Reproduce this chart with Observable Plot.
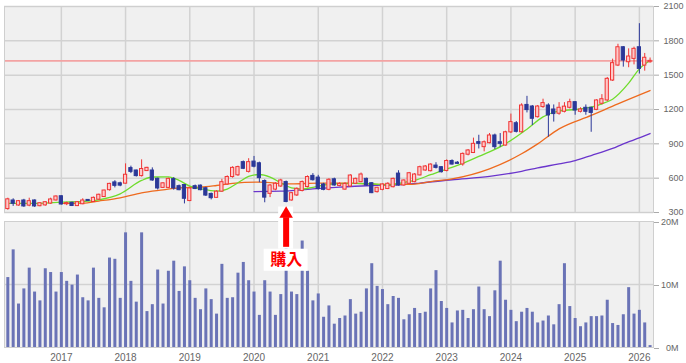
<!DOCTYPE html>
<html><head><meta charset="utf-8">
<script src="https://cdn.jsdelivr.net/npm/d3@7"></script>
<script src="https://cdn.jsdelivr.net/npm/@observablehq/plot@0.6"></script>
<style>
body{margin:0;background:#fff;}
#chart{position:relative;width:686px;height:363px;}
#chart svg{display:block;overflow:visible}
</style></head><body><div id="chart"></div>
<script>
// ---- data (monthly candles, first month = 2016-03) ----
const startMonth = "2016-03";
const priceOpen  = [330,405,361,405,360,405,355,362,378,405, 442,372,385,356,372,410,392,412,435,495,
               563,555,552,688,667,618,662,667,595,515, 515,592,530,540,400,530,535,512,462,428,
               482,545,610,625,740,655,745,730,575,463, 500,527,566,405,449,488,523,620,605,545,
               498,590,532,500,527,551,565,594,556,478, 498,505,521,640,536,551,565,624,667,661,
               710,696,663,750,735,720,805,820,915,871, 906,973,914,885,1000,1080,1001,1240,1226,1133,
               1221,1235,1200,1163,1180,1215,1264,1180,1215,1215, 1197,1250,1279,1453,1584,1744,1613,1642,1744,1584,
               1613];
const priceHigh  = [425,420,405,415,425,410,385,395,425,445, 445,390,390,395,420,412,435,460,495,555,
               578,565,725,705,670,760,695,690,600,560, 600,605,540,545,520,540,540,520,470,490,
               590,620,700,705,750,770,790,740,585,545, 560,590,575,475,515,575,620,640,625,555,
               595,600,560,560,630,600,645,600,560,520, 550,560,600,665,585,650,640,705,710,725,
               735,700,760,760,745,820,850,950,975,925, 990,985,990,1010,1160,1095,1250,1315,1235,1235,
               1290,1250,1240,1260,1260,1290,1270,1215,1240,1220, 1285,1330,1480,1640,1770,1750,1730,1745,1950,1690,
               1650];
const priceLow   = [320,353,355,345,350,345,350,355,372,400, 365,360,352,352,368,398,388,408,432,487,
               515,525,548,640,610,610,658,572,497,510, 510,495,490,375,395,500,490,440,410,425,
               478,540,600,615,675,645,690,560,385,430, 490,520,385,400,440,480,515,575,495,490,
               490,530,525,495,520,545,560,530,465,470, 490,500,515,530,530,545,560,620,660,655,
               680,645,655,715,720,705,795,815,855,830, 900,850,870,880,990,995,995,1170,1060,1125,
               1210,958,1090,1150,1170,1205,1150,1170,1150,1001, 1190,1240,1270,1445,1575,1570,1565,1590,1510,1535,
               1605];
const priceClose = [415,376,399,353,399,353,381,390,414,440, 370,382,357,390,405,400,428,455,492,550,
               533,535,630,655,618,680,690,580,510,555, 594,510,495,420,510,505,495,448,425,482,
               565,610,690,697,682,740,700,600,430,536, 551,580,392,469,507,566,610,582,505,498,
               586,536,550,550,623,594,632,536,469,516, 545,551,594,536,580,643,632,696,702,719,
               690,652,750,719,725,812,842,900,900,914, 973,871,900,1001,1090,1005,1235,1195,1119,1226,
               1256,1148,1160,1215,1225,1264,1191,1200,1180,1170, 1279,1290,1468,1605,1744,1628,1663,1730,1555,1652,
               1625];
const volumeM = [11.1,15.5,6.9,9.3,12.6,8.8,7.4,12.5,11.9,8.8, 11.9,10.5,9.9,11.5,7.9,7.4,12.6,7.8,6.3,14.2,
                 14.0,7.8,18.2,10.5,7.2,18.2,5.7,6.8,12.3,6.9, 12.1,13.7,8.9,12.8,10.6,7.8,6.0,9.3,7.6,5.3,
                 13.2,7.8,7.9,11.8,13.5,10.6,8.8,5.1,10.6,8.8, 5.1,8.4,16.5,8.8,8.4,16.9,12.1,7.4,8.5,4.8,
                 6.6,3.7,4.6,5.0,7.6,5.3,5.6,9.3,13.3,9.7, 9.2,6.8,8.1,7.8,4.4,5.2,6.2,5.4,5.6,9.3,
                 12.2,7.3,6.2,3.9,5.8,5.9,4.6,6.0,9.6,6.0, 4.9,9.0,13.7,7.5,5.9,4.1,5.6,6.2,5.6,3.9,
                 4.2,5.0,3.6,6.8,13.3,6.5,4.6,3.3,3.9,4.9, 4.9,5.0,7.5,3.8,3.5,5.2,9.5,5.3,5.9,3.9,
                 0.3];
// moving averages
const maShortMonths = ["2016-03","2016-09","2017-01","2017-05","2017-08","2017-12","2018-04","2018-06","2018-09","2018-11","2019-01","2019-03","2019-06","2019-08","2019-10","2019-12","2020-02","2020-04","2020-06","2020-08","2020-10","2020-12","2021-03","2021-07","2021-11","2022-02","2022-04","2022-07","2022-10","2023-01","2023-03","2023-07","2023-09","2023-12","2024-04","2024-07","2024-10","2025-01","2025-04","2025-06","2025-08","2025-11","2026-01","2026-03"];
const maShortValues = [380,380,390,396,411,463,580,610,612,580,530,507,486,505,560,615,632,610,560,515,505,520,545,555,551,540,555,580,630,680,711,790,830,900,1028,1135,1188,1200,1220,1250,1290,1430,1555,1628];
const maMidMonths = ["2017-01","2017-05","2017-08","2017-12","2018-04","2018-08","2018-11","2019-03","2019-06","2019-09","2020-02","2020-08","2021-01","2021-07","2022-01","2022-06","2022-10","2023-02","2023-09","2024-03","2024-06","2024-10","2025-04","2025-09","2026-03"];
const maMidValues = [380,382,400,428,472,498,516,521,536,555,565,550,557,557,545,545,570,594,682,813,900,1031,1148,1250,1366];
const maLongMonths = ["2020-01","2020-06","2020-12","2021-05","2021-11","2022-04","2022-08","2023-02","2023-09","2024-03","2024-06","2024-10","2025-01","2025-04","2025-08","2025-10","2025-12","2026-03"];
const maLongValues = [483,486,507,521,536,542,557,586,615,660,690,725,754,798,860,900,935,990];

const yearTicks = [2017,2018,2019,2020,2021,2022,2023,2024,2025,2026];
const priceTicks = [300,600,900,1200,1500,1800,2100];
const volumeTicks = [0,10,20];
const refPrice = 1625;
const purchase = {month: "2020-07", label: "購入"};

// ---- helpers ----
const [sy, sm] = startMonth.split("-").map(Number);
const idx = s => { const [y, m] = s.split("-").map(Number); return (y - sy) * 12 + (m - sm); };
const rows = priceOpen.map((o, i) => ({i, o, h: priceHigh[i], l: priceLow[i], c: priceClose[i], v: volumeM[i], up: priceClose[i] >= o}));
const yearIdx = yearTicks.map(y => idx(y + "-01"));
const ma = (ms, vs, name) => ms.map((m, k) => ({i: idx(m), v: vs[k], name}));
const maData = [...ma(maShortMonths, maShortValues, "s"), ...ma(maMidMonths, maMidValues, "m"), ...ma(maLongMonths, maLongValues, "l")];
const xDomain = [-0.62, 120.64];
const UP = "#f03434", UPFILL = "#ffc9c9", DOWN = "#2b3898";
const font = {fontFamily: "'Liberation Sans', Arial, sans-serif", fontSize: "10px", background: "transparent", overflow: "visible"};
const gridStyle = {stroke: "#d2d2d2", strokeOpacity: 1, strokeWidth: 1.5};

const pricePlot = Plot.plot({
  width: 686, height: 218, marginLeft: 4, marginRight: 33, marginTop: 6, marginBottom: 6,
  style: font,
  x: {domain: xDomain, axis: null, label: null},
  y: {domain: [300, 2100], axis: null, label: null},
  marks: [
    Plot.frame({fill: "#f0f0f0", stroke: null}),
    Plot.gridY(priceTicks, gridStyle),
    Plot.gridX(yearIdx, gridStyle),
    Plot.ruleY([refPrice], {stroke: "#f3a3a3", strokeWidth: 1.6}),
    Plot.line(maData.filter(d => d.name === "l"), {x: "i", y: "v", stroke: "#6a35cc", strokeWidth: 1.3, curve: "monotone-x"}),
    Plot.line(maData.filter(d => d.name === "m"), {x: "i", y: "v", stroke: "#ee6a1e", strokeWidth: 1.3, curve: "monotone-x"}),
    Plot.line(maData.filter(d => d.name === "s"), {x: "i", y: "v", stroke: "#6fdc2c", strokeWidth: 1.3, curve: "monotone-x"}),
    Plot.ruleX(rows, {x: "i", y1: "l", y2: "h", stroke: d => d.up ? UP : DOWN, strokeWidth: 1}),
    Plot.rect(rows, {x1: d => d.i - 0.3, x2: d => d.i + 0.3, y1: "o", y2: "c",
      fill: d => d.up ? UPFILL : DOWN, stroke: d => d.up ? UP : DOWN, strokeWidth: 1}),
    Plot.frame({stroke: "#cfcfcf"}),
    Plot.axisY(priceTicks, {anchor: "right", label: null, tickSize: 5, tickPadding: 25, textAnchor: "end",
      stroke: "#aaa", fill: "#666", fontSize: 9, tickFormat: d => String(d)})
  ]
});

const pI = idx(purchase.month);
const volumePlot = Plot.plot({
  width: 686, height: 145, marginLeft: 4, marginRight: 33, marginTop: 3, marginBottom: 16,
  style: font,
  x: {domain: xDomain, axis: null, label: null},
  y: {domain: [0, 20], axis: null, label: null},
  marks: [
    Plot.frame({fill: "#f0f0f0", stroke: null}),
    Plot.gridY([10], gridStyle),
    Plot.gridX(yearIdx, gridStyle),
    Plot.ruleX(rows, {x: "i", y1: 0, y2: "v", stroke: "#6a73b6", strokeWidth: 3}),
    Plot.frame({stroke: "#cfcfcf"}),
    Plot.axisY(volumeTicks, {anchor: "right", label: null, tickSize: 5, tickPadding: 20, textAnchor: "end",
      stroke: "#aaa", fill: "#666", fontSize: 9, dy: 1, tickFormat: d => d + "M"}),
    Plot.axisX(yearIdx, {anchor: "bottom", label: null, tickSize: 0, tickPadding: 6, fill: "#666",
      tickFormat: (d, k) => String(yearTicks[k])}),
    // purchase annotation
    Plot.rect([purchase], {x1: pI - 1.4, x2: pI + 1.4, y1: 15.6, y2: 22.3, fill: "white"}),
    Plot.ruleX([purchase], {x: pI, y1: 15.9, y2: 20.6, stroke: "#ff0000", strokeWidth: 6}),
    Plot.dot([purchase], {x: pI, y: 21.2, symbol: "triangle", r: 5, fill: "#ff0000", stroke: null}),
    Plot.rect([purchase], {x1: pI - 4.1, x2: pI + 4.1, y1: 12.1, y2: 15.6, fill: "white"}),
    Plot.text([purchase], {x: pI, y: 13.85, text: "label", fill: "#ff0000", fontSize: 16, fontWeight: "bold",
      fontFamily: "'Noto Sans CJK JP', sans-serif"})
  ]
});

document.getElementById("chart").append(pricePlot, volumePlot);
</script>
</body></html>
